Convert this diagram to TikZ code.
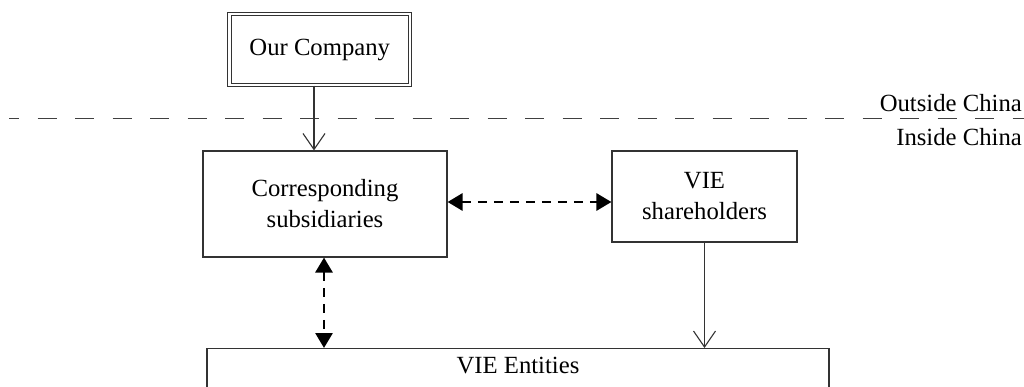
\documentclass[tikz,border=0pt]{standalone}
\usepackage{fontspec}
\setmainfont{Liberation Serif}
\usetikzlibrary{arrows.meta}
\begin{document}
\begin{tikzpicture}[x=1pt,y=-1pt,
  txt/.style={font=\fontsize{24.7}{30}\selectfont, align=center, inner sep=0pt},
  box/.style={draw=black!80, line width=1.1pt, txt},
  thinarrow/.style={draw=black!80, line width=1.1pt, -{Straight Barb[length=16pt,width=22pt,line width=1.1pt]}},
  linkarrow/.style={line width=2.8pt, dash pattern=on 9pt off 7pt,
    {Triangle[length=15pt,width=17pt]}-{Triangle[length=15pt,width=17pt]}}
]
\useasboundingbox (0,0) rectangle (1024,387);
\begin{scope}
\clip (0,0) rectangle (1024,387);

% holding company, double-framed
\node[box, double, double distance=2.6pt, minimum width=180.5pt, minimum height=71pt]
  (co) at (319.75,49.5) {Our Company};

% border between offshore and onshore
\coordinate (bl) at (9,118.5);
\coordinate (br) at (1024,118.5);
\draw[draw=black!75, line width=1.6pt, dash pattern=on 19pt off 18.5pt, dash phase=9pt] (bl) -- (br);
\node[txt, anchor=east] (out) at (1022,103) {Outside China};
\node[txt, anchor=east] (ins) at (1022,137) {Inside China};

% onshore entities
\node[box, minimum width=244pt, minimum height=106pt] (sub) at (325,204) {Corresponding\\[1pt]subsidiaries};
\node[box, minimum width=185pt, minimum height=91pt] (sh) at (704.5,196.5) {VIE\\[1pt]shareholders};
\node[draw=black!80, line width=1.1pt, minimum width=622pt, minimum height=60pt, anchor=north] (vie) at (518,348) {};
\node[txt, anchor=base] (vielbl) at (518,373) {VIE Entities};

% relations
\draw[thinarrow] (co.south -| 314,0) -- (sub.north -| 314,0);
\draw[linkarrow] (sub.east |- 0,202) -- (sh.west |- 0,202);
\draw[linkarrow] (sub.south -| 324,0) -- (vie.north -| 324,0);
\draw[thinarrow] (sh.south) -- (vie.north -| sh.south);
\end{scope}
\end{tikzpicture}
\end{document}
